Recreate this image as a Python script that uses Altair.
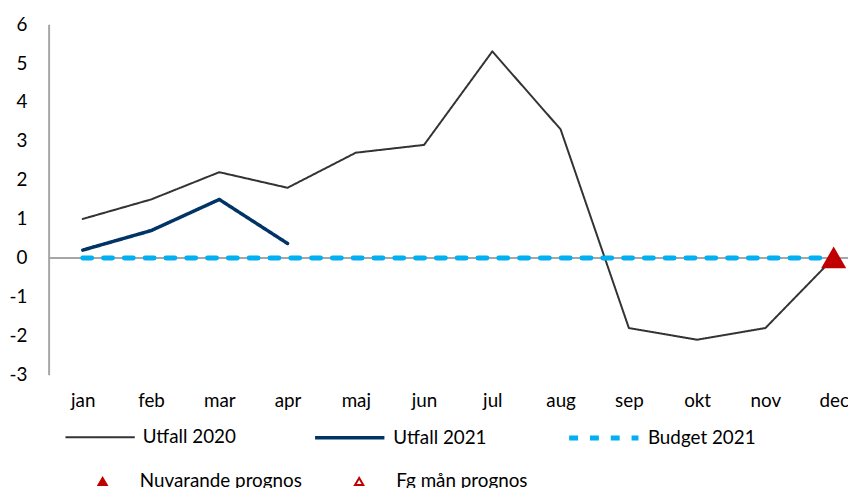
import altair as alt
import pandas as pd

months = ["jan", "feb", "mar", "apr", "maj", "jun", "jul", "aug", "sep", "okt", "nov", "dec"]
utfall_2020 = [1.0, 1.5, 2.2, 1.8, 2.7, 2.9, 5.3, 3.3, -1.8, -2.1, -1.8, 0.0]
utfall_2021 = [0.2, 0.7, 1.5, 0.37]
budget_2021 = [0.0, 0.0, 0.0, 0.0, 0.0, 0.0, 0.0, 0.0, 0.0, 0.0, 0.0, 0.0]
series_names = ["Utfall 2020", "Utfall 2021", "Budget 2021"]
prognos_names = ["Nuvarande prognos", "Fg mån prognos"]
nuvarande_month = ["dec"]
nuvarande_value = [0.0]
y_ticks = [-3, -2, -1, 0, 1, 2, 3, 4, 5, 6]

rows = []
for name, vals in zip(series_names, [utfall_2020, utfall_2021, budget_2021]):
    for i, (m, v) in enumerate(zip(months, vals)):
        rows.append({"series": name, "month": m, "idx": i, "value": v})
lines_df = pd.DataFrame(rows)
prog_df = pd.DataFrame({"prognos": ["Nuvarande prognos"] * len(nuvarande_month),
                        "month": nuvarande_month,
                        "idx": [months.index(m) for m in nuvarande_month],
                        "value": nuvarande_value})

FONT = "Lato"
FS = 19
month_expr = "[" + ",".join("'" + m + "'" for m in months) + "][datum.value]"

x_scale = alt.Scale(domain=[-0.5, 11.21], nice=False, zero=False)
y_scale = alt.Scale(domain=[-3, 6], nice=False, zero=False)

y_axis = alt.Axis(title=None, values=y_ticks, tickCount=20, grid=False, ticks=False,
                  domainColor="#A6A6A6", domainWidth=2, labelOverlap=False,
                  labelExpr="'' + datum.value",
                  labelPadding=22, labelFontSize=FS, labelFont=FONT,
                  labelColor="#000000", labelFlush=False)

x_enc = alt.X("idx:Q", scale=x_scale,
              axis=alt.Axis(title=None, domain=False, ticks=False, grid=False,
                            values=list(range(len(months))), tickCount=30,
                            labelExpr=month_expr, labelOverlap=False,
                            labelPadding=17, labelFontSize=FS, labelFont=FONT,
                            labelColor="#000000", labelFlush=False))
y_enc = alt.Y("value:Q", scale=y_scale, axis=y_axis)

zero = alt.Chart(pd.DataFrame({"z": [0]})).mark_rule(color="#A6A6A6", strokeWidth=2).encode(
    y=alt.Y("z:Q", scale=y_scale, axis=y_axis)
)

line_legend = alt.Legend(title=None, orient="none", legendX=16, legendY=380,
                         direction="horizontal", symbolSize=4900, symbolType="stroke",
                         labelOffset=7, columnPadding=72, labelFontSize=FS,
                         labelFont=FONT, labelColor="#000000", padding=0, labelLimit=400)

lines = alt.Chart(lines_df).mark_line(strokeCap="round", strokeJoin="round").encode(
    x=x_enc,
    y=y_enc,
    color=alt.Color("series:N", sort=series_names,
                    scale=alt.Scale(domain=series_names,
                                    range=["#333333", "#003366", "#00B0F0"]),
                    legend=line_legend),
    strokeDash=alt.StrokeDash("series:N", sort=series_names,
                              scale=alt.Scale(domain=series_names,
                                              range=[[1, 0], [1, 0], [9, 12]]),
                              legend=line_legend),
    strokeWidth=alt.StrokeWidth("series:N", sort=series_names,
                                scale=alt.Scale(domain=series_names, range=[2, 5, 4]),
                                legend=line_legend),
    order=alt.Order("idx:Q"),
)

shape_legend = alt.Legend(title=None, orient="none", legendX=45, legendY=452,
                          direction="horizontal", symbolSize=70,
                          labelOffset=28, columnPadding=48, labelFontSize=FS,
                          labelFont=FONT, labelColor="#000000", padding=0,
                          symbolStrokeWidth=2, labelLimit=400)

points = alt.Chart(prog_df).mark_point(filled=True, stroke="#C00000", strokeWidth=2,
                                       opacity=1).encode(
    x=alt.X("idx:Q", scale=x_scale),
    y=alt.Y("value:Q", scale=y_scale),
    shape=alt.Shape("prognos:N",
                    scale=alt.Scale(domain=prognos_names,
                                    range=["triangle-up", "triangle-up"]),
                    legend=shape_legend),
    fill=alt.Fill("prognos:N",
                  scale=alt.Scale(domain=prognos_names, range=["#C00000", "#FFFFFF"]),
                  legend=shape_legend),
    size=alt.value(480),
)

chart = alt.layer(zero, lines, points).properties(
    width=807, height=354,
    autosize=alt.AutoSizeParams(type="none"),
    padding={"left": 41, "top": 14, "right": 0, "bottom": 112},
).configure_view(stroke=None)

chart.save("out.html", embed_options={"renderer": "svg", "actions": False})
